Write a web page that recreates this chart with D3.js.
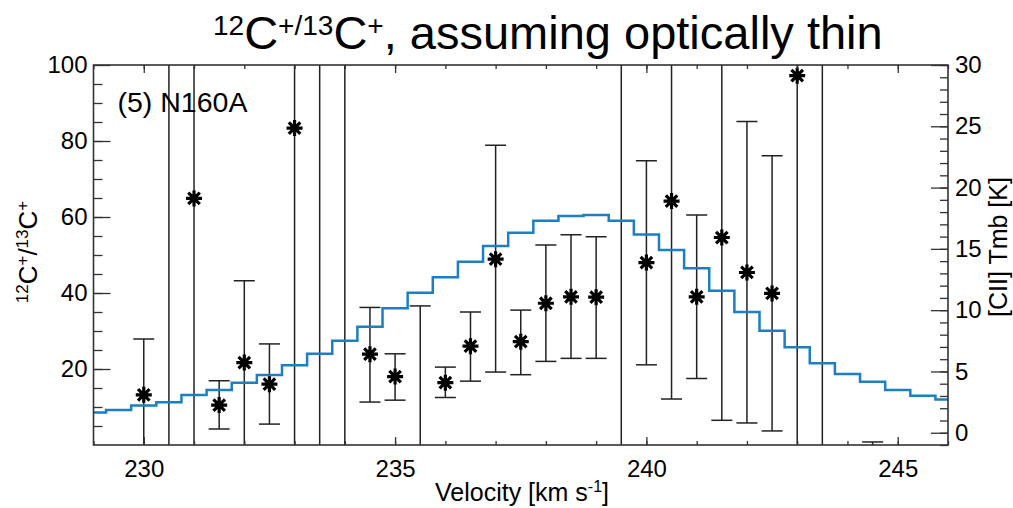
<!DOCTYPE html>
<html>
<head>
<meta charset="utf-8">
<script src="https://cdn.jsdelivr.net/npm/d3@7"></script>
<style>
    body { margin: 0; background: #fff; }
    svg { font-family: "Liberation Sans", Arial, sans-serif; }
</style>
</head>
<body>
<div id="chart"></div>
<script>
// 12C+/13C+ ratio per channel (km/s), with lower / upper error
const velocities = [230, 230.5, 231, 231.5, 232, 232.5, 233, 233.5, 234, 234.5, 235, 235.5, 236, 236.5,
    237, 237.5, 238, 238.5, 239, 239.5, 240, 240.5, 241, 241.5, 242, 242.5, 243, 243.5, 244.5];
const ratios = [13.2, 160, 64.9, 10.5, 21.7, 16.0, 83.4, 130, 150, 23.9, 18.0, -15, 16.4, 26.0,
    48.9, 27.2, 37.3, 39.0, 38.9, 120, 48.0, 64.2, 39.0, 54.6, 45.4, 39.9, 97.2, 140, -20];
const ratioLow = [-30, -120, -80, 4.2, -5, 5.5, -60, -70, -60, 11.3, 11.8, -70, 12.5, 16.8,
    19.2, 18.5, 22.0, 22.8, 22.8, -80, 21.1, 12.1, 17.5, 6.5, 5.8, 3.7, -40, -60, -60];
const ratioHigh = [27.9, 440, 210, 16.9, 43.2, 26.6, 230, 330, 360, 36.2, 24.0, 36.6, 20.5, 35.0,
    78.9, 35.5, 52.6, 55.3, 54.8, 320, 74.8, 116, 60.5, 103, 85.1, 76.1, 235, 340, 0.8];

// [CII] spectrum, right axis
const specVelocities = [229, 229.5, 230, 230.5, 231, 231.5, 232, 232.5, 233, 233.5, 234, 234.5,
    235, 235.5, 236, 236.5, 237, 237.5, 238, 238.5, 239, 239.5, 240, 240.5, 241, 241.5,
    242, 242.5, 243, 243.5, 244, 244.5, 245, 245.5, 246];
const specTmb = [1.66, 1.85, 2.23, 2.48, 3.07, 3.48, 4.08, 4.71, 5.50, 6.44, 7.50, 8.65,
    10.15, 11.42, 12.68, 13.95, 15.23, 16.31, 17.29, 17.68, 17.76, 17.29, 16.18, 14.90, 13.41, 11.58,
    9.85, 8.32, 6.97, 5.66, 4.79, 4.16, 3.48, 3.02, 2.72];

const xTicks = [230, 235, 240, 245];
const leftTicks = [20, 40, 60, 80, 100];
const rightTicks = [0, 5, 10, 15, 20, 25, 30];

const rawWidth = 1013, rawHeight = 508;
const margin = { left: 93.5, right: 65, top: 65, bot: 63 };
const width = rawWidth - margin.left - margin.right;
const height = rawHeight - margin.top - margin.bot;
const tickFont = 24;

const svg = d3.select('#chart').append('svg')
    .attr('width', rawWidth)
    .attr('height', rawHeight);

const x = d3.scaleLinear().domain([229, 246]).range([0, width]);
const yL = d3.scaleLinear().domain([0, 100]).range([height, 0]);
const yR = d3.scaleLinear().domain([-1, 30]).range([height, 0]);

const g = svg.append('g')
    .attr('transform', `translate(${margin.left},${margin.top})`);

g.append('clipPath').attr('id', 'plot-clip')
    .append('rect').attr('width', width).attr('height', height);

// spectrum (histogram style)
const line = d3.line()
    .x((d, i) => x(specVelocities[i]))
    .y(d => yR(d))
    .curve(d3.curveStep);

const plot = g.append('g').attr('clip-path', 'url(#plot-clip)');

// error bars
const capW = 10.5;
velocities.forEach((v, i) => {
    const cx = x(v);
    const eb = plot.append('g').attr('stroke', '#222').attr('stroke-width', 1.5);
    eb.append('line')
        .attr('x1', cx).attr('x2', cx)
        .attr('y1', yL(ratioLow[i])).attr('y2', yL(ratioHigh[i]));
    [ratioLow[i], ratioHigh[i]].forEach(e => {
        eb.append('line')
            .attr('x1', cx - capW).attr('x2', cx + capW)
            .attr('y1', yL(e)).attr('y2', yL(e));
    });
});

plot.append('path')
    .datum(specTmb)
    .attr('d', line)
    .attr('fill', 'none')
    .attr('stroke', '#1b7fc1')
    .attr('stroke-width', 2.5);

// asterisks
const r = 8, rd = r * 0.72;
const starPath = `M${-r},0H${r}M0,${-r}V${r}M${-rd},${-rd}L${rd},${rd}M${-rd},${rd}L${rd},${-rd}`;
velocities.forEach((v, i) => {
    plot.append('path')
        .attr('d', starPath)
        .attr('transform', `translate(${x(v)},${yL(ratios[i])})`)
        .attr('stroke', '#000')
        .attr('stroke-width', 3.2)
        .attr('fill', 'none');
});

// axes, ticks pointing inward
function styleAxis(sel) {
    sel.select('.domain').remove();
    sel.selectAll('line').attr('stroke', '#333').attr('stroke-width', 1.3);
    sel.selectAll('text').attr('font-size', tickFont).attr('fill', '#000')
        .attr('font-family', '"Liberation Sans", Arial, sans-serif');
}

g.append('g').attr('transform', `translate(0,${height})`)
    .call(d3.axisBottom(x).tickValues(xTicks).tickSize(-8).tickPadding(15).tickFormat(d3.format('d')))
    .call(styleAxis);
g.append('g').attr('transform', `translate(0,${height})`)
    .call(d3.axisBottom(x).tickValues(d3.range(229, 247)).tickSize(-4).tickFormat(''))
    .call(styleAxis);
g.append('g')
    .call(d3.axisTop(x).tickValues(xTicks).tickSize(-8).tickFormat(''))
    .call(styleAxis);
g.append('g')
    .call(d3.axisTop(x).tickValues(d3.range(229, 247)).tickSize(-4).tickFormat(''))
    .call(styleAxis);

g.append('g')
    .call(d3.axisLeft(yL).tickValues(leftTicks).tickSize(-17).tickPadding(6))
    .call(styleAxis);
g.append('g')
    .call(d3.axisLeft(yL).tickValues(d3.range(5, 100, 5)).tickSize(-9).tickFormat(''))
    .call(styleAxis);

g.append('g').attr('transform', `translate(${width},0)`)
    .call(d3.axisRight(yR).tickValues(rightTicks).tickSize(-17).tickPadding(7))
    .call(styleAxis);
g.append('g').attr('transform', `translate(${width},0)`)
    .call(d3.axisRight(yR).tickValues(d3.range(-1, 31)).tickSize(-8).tickFormat(''))
    .call(styleAxis);

// frame
g.append('rect')
    .attr('width', width).attr('height', height)
    .attr('fill', 'none').attr('stroke', '#333').attr('stroke-width', 1.6);

// label inside plot
g.append('text')
    .attr('x', 24).attr('y', 47)
    .attr('font-size', 28.5)
    .text('(5) N160A');

// text with superscripts; the drop back to the baseline goes on the next piece
function addRich(text, parts, big, small, lift) {
    let pending = 0;
    parts.forEach(p => {
        const ts = text.append('tspan').text(p.t);
        if (p.sup) {
            ts.attr('font-size', small).attr('dy', pending - lift);
            pending = lift;
        } else {
            ts.attr('font-size', big).attr('dy', pending);
            pending = 0;
        }
    });
}

// title
const title = svg.append('text')
    .attr('x', 213).attr('y', 49)
    .attr('fill', '#000');
addRich(title, [
    { t: '12', sup: true }, { t: 'C' }, { t: '+/13', sup: true }, { t: 'C' }, { t: '+', sup: true },
    { t: ', assuming optically thin' }
], 47, 28, 14);

// left label
const yLabel = svg.append('text')
    .attr('transform', 'translate(37,252) rotate(-90)')
    .attr('text-anchor', 'middle');
addRich(yLabel, [
    { t: '12', sup: true }, { t: 'C' }, { t: '+', sup: true }, { t: '/' },
    { t: '13', sup: true }, { t: 'C' }, { t: '+', sup: true }
], 26, 17, 9);

// right label
svg.append('text')
    .attr('transform', 'translate(1007,247) rotate(-90)')
    .attr('text-anchor', 'middle')
    .attr('font-size', 25)
    .text('[CII] Tmb [K]');

// x label
const xLabel = svg.append('text')
    .attr('x', 522).attr('y', 501)
    .attr('text-anchor', 'middle');
addRich(xLabel, [{ t: 'Velocity [km s' }, { t: '-1', sup: true }, { t: ']' }], 25, 16, 9);
</script>
</body>
</html>
